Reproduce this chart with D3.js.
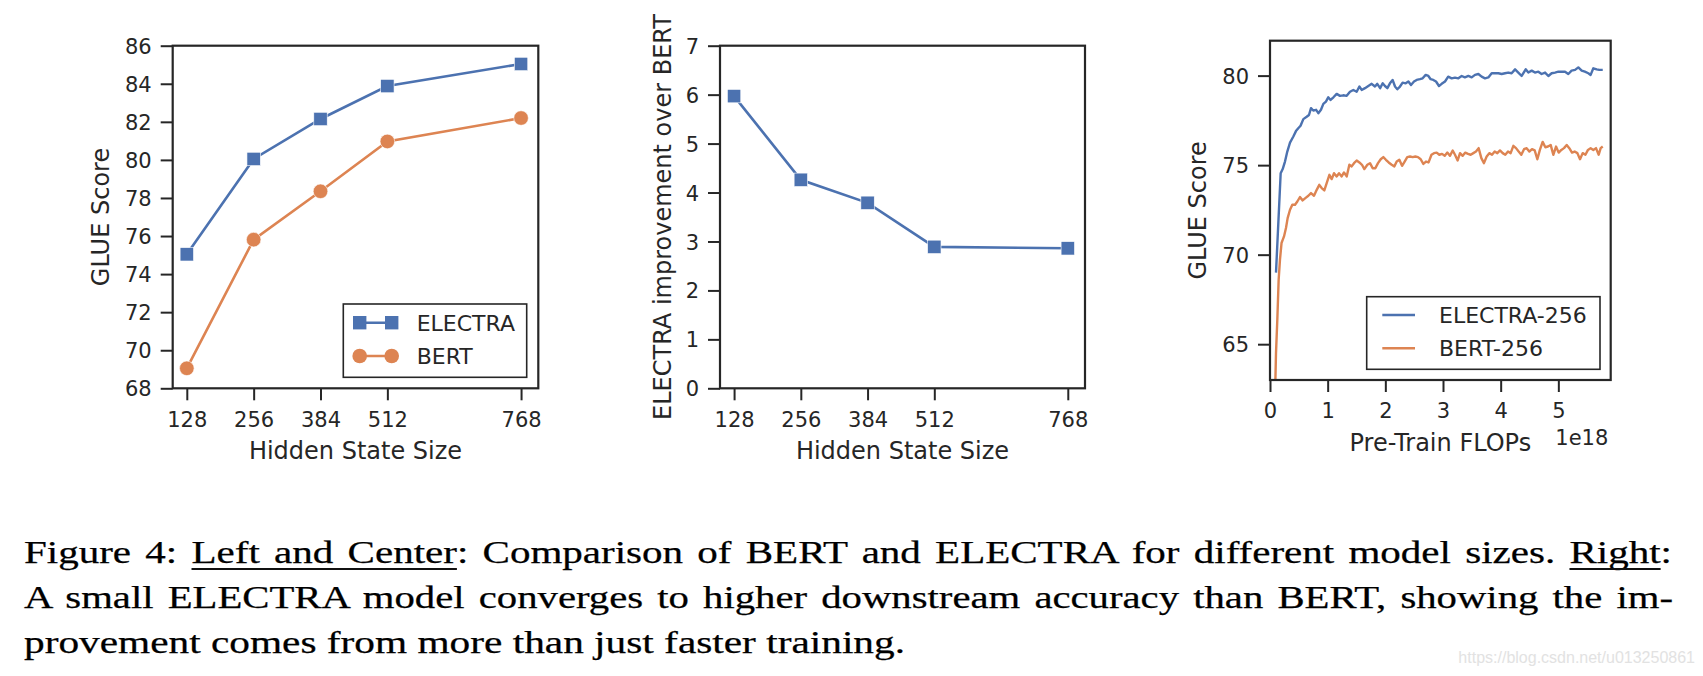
<!DOCTYPE html>
<html><head><meta charset="utf-8">
<script src="https://cdn.jsdelivr.net/npm/d3@7"></script>
<style>body{margin:0;background:#fff}svg{display:block}</style>
</head><body>
<svg id="fig" width="1703" height="676"></svg>
<script>
// ---------------- DATA ----------------
const hiddenSizes = [128, 256, 384, 512, 768];
const electraGlue = [75.04, 80.05, 82.15, 83.88, 85.04];
const bertGlue = [69.05, 75.81, 78.35, 80.97, 82.2];
const electraImprovement = [5.97, 4.26, 3.79, 2.89, 2.86];
const leftYTicks = [68, 70, 72, 74, 76, 78, 80, 82, 84, 86];
const centerYTicks = [0, 1, 2, 3, 4, 5, 6, 7];
const flopsTicks = [0, 1, 2, 3, 4, 5];
const rightYTicks = [65, 70, 75, 80];

const electra256Flops = [0.104,0.185,0.22,0.26,0.30,0.347,0.405,0.45,0.49,0.53,
0.578,0.636,0.676,0.711,0.75,0.8,0.838,0.884,0.925,0.97,
1.01,1.05,1.1,1.156,1.214,1.27,1.33,1.387,1.445,1.503,
1.55,1.59,1.647,1.705,1.763,1.82,1.86,1.91,1.954,1.994,
2.035,2.08,2.126,2.168,2.208,2.254,2.3,2.353,2.4,2.445,
2.497,2.543,2.6,2.647,2.7,2.746,2.786,2.832,2.879,2.93,
2.977,3.035,3.09,3.15,3.208,3.266,3.324,3.38,3.44,3.497,
3.555,3.613,3.67,3.728,3.786,3.844,3.9,3.96,4.017,4.075,
4.13,4.19,4.25,4.306,4.364,4.434,4.48,4.538,4.595,4.653,
4.71,4.77,4.827,4.884,4.942,5.0,5.058,5.116,5.173,5.23,
5.29,5.347,5.405,5.46,5.52,5.56,5.607,5.665,5.71,5.77];
const electra256Glue = [69.0,74.55,74.78,75.2,75.76,76.26,76.6,76.9,77.06,77.2,
77.57,77.7,77.8,78.18,78.05,78.09,77.9,78.09,78.42,78.55,
78.79,78.64,78.79,78.98,78.87,78.9,78.87,79.1,79.2,79.1,
79.39,79.2,79.3,79.42,79.54,79.39,79.54,79.3,79.57,79.42,
79.3,79.57,79.76,79.39,79.24,79.39,79.61,79.57,79.67,79.48,
79.67,79.76,79.8,79.85,80.04,79.98,79.8,79.76,79.67,79.42,
79.54,79.67,79.94,79.85,79.89,79.85,79.98,79.9,79.98,79.9,
80.04,80.09,79.94,79.85,79.9,80.13,80.13,80.13,80.09,80.13,
80.17,80.13,80.35,80.17,79.98,80.35,80.17,80.28,80.17,80.22,
80.09,80.17,79.98,80.13,80.17,80.22,80.22,80.22,80.09,80.28,
80.32,80.46,80.28,80.22,80.13,80.04,80.41,80.35,80.32,80.32];

const bert256Flops = [0.09,0.104,0.127,0.15,0.173,0.2,0.243,0.277,0.306,0.347,
0.387,0.434,0.474,0.52,0.566,0.613,0.665,0.711,0.763,0.81,
0.855,0.896,0.942,0.983,1.03,1.07,1.11,1.156,1.197,1.243,
1.283,1.33,1.376,1.416,1.457,1.503,1.55,1.595,1.636,1.688,
1.734,1.78,1.827,1.873,1.92,1.965,2.01,2.058,2.11,2.156,
2.197,2.243,2.29,2.335,2.38,2.428,2.474,2.52,2.566,2.613,
2.659,2.705,2.75,2.8,2.844,2.89,2.936,2.983,3.03,3.075,
3.12,3.168,3.208,3.254,3.295,3.341,3.387,3.434,3.48,3.526,
3.572,3.618,3.665,3.71,3.757,3.803,3.85,3.896,3.942,3.988,
4.035,4.08,4.127,4.173,4.22,4.266,4.312,4.358,4.405,4.45,
4.497,4.543,4.59,4.636,4.68,4.728,4.775,4.82,4.867,4.913,
4.96,5.006,5.052,5.098,5.145,5.19,5.237,5.283,5.33,5.376,
5.422,5.47,5.514,5.56,5.607,5.653,5.7,5.734,5.77];
const bert256Glue = [62.5,64.5,66.38,68.6,69.72,70.65,71.02,71.49,72.04,72.51,
72.79,72.79,72.97,73.22,73.03,73.16,73.29,73.44,73.29,73.62,
73.9,73.72,73.59,74.0,74.46,74.22,74.55,74.37,74.55,74.37,
74.59,74.37,75.02,74.93,75.11,75.26,75.15,75.02,74.78,75.02,
75.11,74.83,74.83,75.11,75.33,75.45,75.3,75.15,75.02,74.93,
75.2,75.3,74.96,75.2,75.45,75.48,75.45,75.48,75.45,75.33,
75.07,75.2,75.15,75.58,75.67,75.7,75.58,75.63,75.52,75.7,
75.52,75.82,75.58,75.26,75.67,75.52,75.7,75.63,75.58,75.67,
75.76,75.95,75.39,75.11,75.48,75.67,75.58,75.76,75.67,75.82,
75.67,75.58,75.76,75.67,76.08,75.95,75.76,75.58,75.89,75.95,
75.76,75.89,75.82,75.33,75.85,76.3,76.0,76.04,76.13,75.58,
76.04,75.7,75.85,75.95,76.13,75.95,75.7,75.76,75.67,75.33,
75.67,75.58,75.85,75.95,75.85,75.95,75.58,75.95,76.04];

const captionLines = [
  "Figure 4: Left and Center: Comparison of BERT and ELECTRA for different model sizes. Right:",
  "A small ELECTRA model converges to higher downstream accuracy than BERT, showing the im-",
  "provement comes from more than just faster training."
];
const watermark = "https://blog.csdn.net/u013250861";

// ---------------- STYLE ----------------
const BLUE = "#4C72B0", ORANGE = "#DD8452", INK = "#262626";
const FONT = "'DejaVu Sans', sans-serif";
const svg = d3.select("#fig");

function panel(o) {
  const g = svg.append("g");
  const x = d3.scaleLinear().domain(o.xDomain).range([o.left, o.right]);
  const y = d3.scaleLinear().domain(o.yDomain).range([o.bottom, o.top]);
  const tickLen = 12;
  const xa = g.append("g").attr("transform", `translate(0,${o.bottom})`)
    .call(d3.axisBottom(x).tickValues(o.xTicks).tickFormat(d3.format("d")).tickSize(tickLen).tickPadding(8));
  const ya = g.append("g").attr("transform", `translate(${o.left},0)`)
    .call(d3.axisLeft(y).tickValues(o.yTicks).tickFormat(d3.format("d")).tickSize(tickLen).tickPadding(9));
  [xa, ya].forEach(a => {
    a.select(".domain").remove();
    a.selectAll(".tick line").attr("stroke", INK).attr("stroke-width", 2);
    a.selectAll(".tick text").attr("fill", INK).style("font-family", FONT).style("font-size", "21px");
  });
  xa.selectAll(".tick text").attr("dy", null).attr("y", 38.4);
  ya.selectAll(".tick text").attr("dy", "0.36em");
  g.append("rect").attr("x", o.left).attr("y", o.top)
    .attr("width", o.right - o.left).attr("height", o.bottom - o.top)
    .attr("fill", "none").attr("stroke", INK).attr("stroke-width", 2.2);
  g.append("text").attr("x", (o.left + o.right) / 2).attr("y", o.bottom + 71)
    .attr("text-anchor", "middle").attr("fill", INK)
    .style("font-family", FONT).style("font-size", "24px").text(o.xLabel);
  g.append("text").attr("transform", `translate(${o.yLabelX},${(o.top + o.bottom) / 2}) rotate(-90)`)
    .attr("text-anchor", "middle").attr("fill", INK)
    .style("font-family", FONT).style("font-size", "24px").text(o.yLabel);
  return { g, x, y };
}

// ---------- Left panel ----------
const P1 = panel({ left: 172.7, right: 538.3, top: 45.7, bottom: 388.3,
  xDomain: [101, 801], yDomain: [68, 86], xTicks: hiddenSizes, yTicks: leftYTicks,
  xLabel: "Hidden State Size", yLabel: "GLUE Score", yLabelX: 108.5 });
const line1 = d3.line().x(d => P1.x(d[0])).y(d => P1.y(d[1]));
const eData = d3.zip(hiddenSizes, electraGlue), bData = d3.zip(hiddenSizes, bertGlue);
P1.g.append("path").attr("d", line1(bData)).attr("fill", "none").attr("stroke", ORANGE).attr("stroke-width", 2.6);
P1.g.selectAll("circle.b").data(bData).join("circle").attr("cx", d => P1.x(d[0])).attr("cy", d => P1.y(d[1]))
  .attr("r", 7.3).attr("fill", ORANGE).attr("stroke", "#fff").attr("stroke-width", 0.6);
P1.g.append("path").attr("d", line1(eData)).attr("fill", "none").attr("stroke", BLUE).attr("stroke-width", 2.6);
P1.g.selectAll("rect.e").data(eData).join("rect").attr("x", d => P1.x(d[0]) - 6.7).attr("y", d => P1.y(d[1]) - 6.7)
  .attr("width", 13.4).attr("height", 13.4).attr("fill", BLUE).attr("stroke", "#fff").attr("stroke-width", 0.6);
(function () {
  const lg = P1.g.append("g");
  lg.append("rect").attr("x", 343.3).attr("y", 304).attr("width", 183.4).attr("height", 73.3)
    .attr("fill", "#fff").attr("stroke", INK).attr("stroke-width", 1.6);
  const rows = [{ name: "ELECTRA", c: BLUE, sq: true, y: 322.7 }, { name: "BERT", c: ORANGE, sq: false, y: 356 }];
  rows.forEach(r => {
    lg.append("line").attr("x1", 359.7).attr("x2", 391.7).attr("y1", r.y).attr("y2", r.y).attr("stroke", r.c).attr("stroke-width", 2.6);
    [359.7, 391.7].forEach(cx => {
      if (r.sq) lg.append("rect").attr("x", cx - 6.7).attr("y", r.y - 6.7).attr("width", 13.4).attr("height", 13.4).attr("fill", r.c);
      else lg.append("circle").attr("cx", cx).attr("cy", r.y).attr("r", 7.3).attr("fill", r.c);
    });
    lg.append("text").attr("x", 416.7).attr("y", r.y + 8).attr("fill", INK)
      .style("font-family", FONT).style("font-size", "22px").text(r.name);
  });
})();

// ---------- Center panel ----------
const P2 = panel({ left: 720, right: 1085, top: 45.7, bottom: 388.3,
  xDomain: [101, 801], yDomain: [0, 7], xTicks: hiddenSizes, yTicks: centerYTicks,
  xLabel: "Hidden State Size", yLabel: "ELECTRA improvement over BERT", yLabelX: 670.7 });
const iData = d3.zip(hiddenSizes, electraImprovement);
P2.g.append("path").attr("d", d3.line().x(d => P2.x(d[0])).y(d => P2.y(d[1]))(iData))
  .attr("fill", "none").attr("stroke", BLUE).attr("stroke-width", 2.6);
P2.g.selectAll("rect.i").data(iData).join("rect").attr("x", d => P2.x(d[0]) - 6.7).attr("y", d => P2.y(d[1]) - 6.7)
  .attr("width", 13.4).attr("height", 13.4).attr("fill", BLUE).attr("stroke", "#fff").attr("stroke-width", 0.6);

// ---------- Right panel ----------
const P3 = panel({ left: 1270, right: 1610.7, top: 40.7, bottom: 380,
  xDomain: [0, 5.908], yDomain: [63.0, 81.95], xTicks: flopsTicks, yTicks: rightYTicks,
  xLabel: "Pre-Train FLOPs", yLabel: "GLUE Score", yLabelX: 1206 });
svg.append("defs").append("clipPath").attr("id", "clip3").append("rect")
  .attr("x", 1270).attr("y", 40.7).attr("width", 340.7).attr("height", 339.3);
const line3 = d3.line().x(d => P3.x(d[0])).y(d => P3.y(d[1]));
const cg = P3.g.insert("g", "rect").attr("clip-path", "url(#clip3)");
cg.append("path").attr("d", line3(d3.zip(electra256Flops, electra256Glue)))
  .attr("fill", "none").attr("stroke", BLUE).attr("stroke-width", 2.4).attr("stroke-linejoin", "round");
cg.append("path").attr("d", line3(d3.zip(bert256Flops, bert256Glue)))
  .attr("fill", "none").attr("stroke", ORANGE).attr("stroke-width", 2.4).attr("stroke-linejoin", "round");
P3.g.append("text").attr("x", 1608.3).attr("y", 445).attr("text-anchor", "end").attr("fill", INK)
  .style("font-family", FONT).style("font-size", "21px").text("1e18");
(function () {
  const lg = P3.g.append("g");
  lg.append("rect").attr("x", 1366.7).attr("y", 296.7).attr("width", 233.3).attr("height", 72.6)
    .attr("fill", "#fff").attr("stroke", INK).attr("stroke-width", 1.6);
  [{ name: "ELECTRA-256", c: BLUE, y: 315 }, { name: "BERT-256", c: ORANGE, y: 348.3 }].forEach(r => {
    lg.append("line").attr("x1", 1382.3).attr("x2", 1415).attr("y1", r.y).attr("y2", r.y).attr("stroke", r.c).attr("stroke-width", 2.6);
    lg.append("text").attr("x", 1439).attr("y", r.y + 7.7).attr("fill", INK)
      .style("font-family", FONT).style("font-size", "22px").text(r.name);
  });
})();

// ---------- Caption ----------
const capFont = "'Liberation Serif', 'Times New Roman', serif";
const capBase = [562.5, 608, 652.8];
const capLen = [1648, 1649, 881];
const capWordSpacing = [3, 3, 0];
const capEls = captionLines.map((t, i) => svg.append("text").attr("x", 24).attr("y", capBase[i])
  .attr("textLength", capLen[i]).attr("lengthAdjust", "spacingAndGlyphs")
  .attr("fill", "#000").attr("stroke", "#000").attr("stroke-width", 0.25)
  .style("word-spacing", capWordSpacing[i] + "px")
  .style("font-family", capFont).style("font-size", "30.5px").text(t).node());
function underline(el, word, y) {
  const s = el.textContent.indexOf(word), e = s + word.length - 1;
  const a = el.getExtentOfChar(s), b = el.getExtentOfChar(e);
  svg.append("line").attr("x1", a.x).attr("x2", b.x + b.width).attr("y1", y).attr("y2", y)
    .attr("stroke", "#111").attr("stroke-width", 1.8);
}
underline(capEls[0], "Left and Center", 569);
underline(capEls[0], "Right", 569);
svg.append("text").attr("x", 1695).attr("y", 663.3).attr("text-anchor", "end").attr("fill", "#e2e2e2")
  .style("font-family", "'Liberation Sans', Arial, sans-serif").style("font-size", "16px").text(watermark);
</script>
</body></html>
